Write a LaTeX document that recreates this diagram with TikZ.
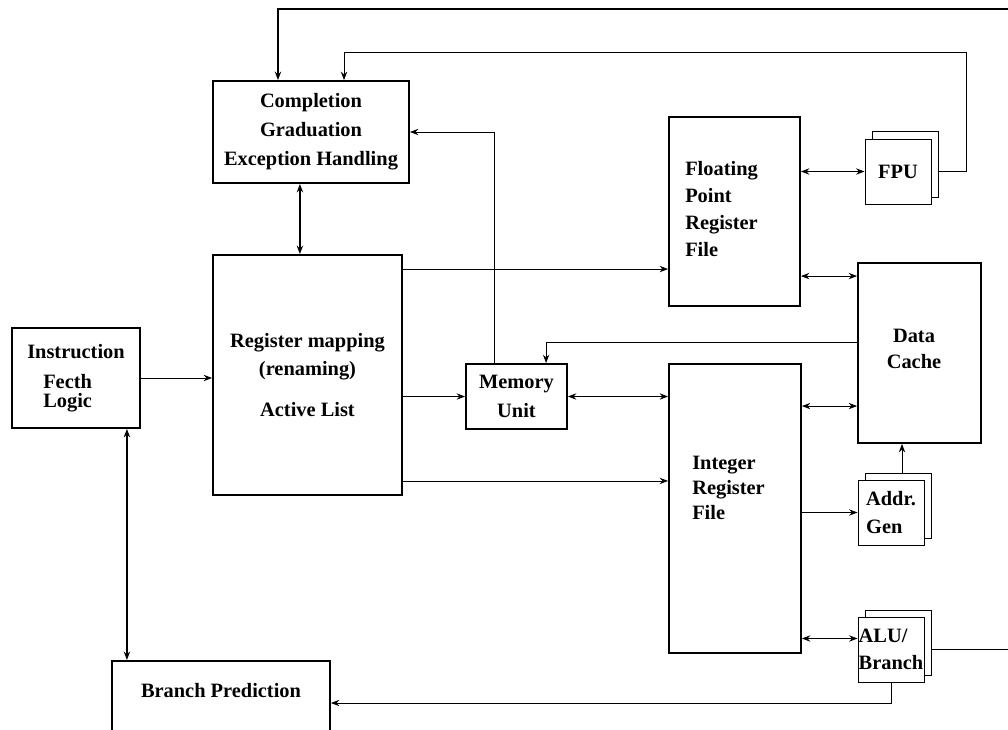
\documentclass[tikz,border=0pt]{standalone}
\usepackage{fontspec}
\setmainfont{Liberation Serif}
\usetikzlibrary{arrows.meta,shadows}
\begin{document}
\begin{tikzpicture}[x=0.025cm,y=-0.025cm,>={Stealth[length=6pt,width=4.5pt,inset=2pt]}]
	% styles
	\tikzstyle{blk} = [draw,line width=1.3pt,font=\bfseries\fontsize{14.5}{20.5}\selectfont,align=center,inner sep=0pt]
	\tikzstyle{lbl} = [font=\bfseries\fontsize{14.5}{19}\selectfont,align=left,inner sep=0pt]
	\tikzstyle{unit} = [draw,line width=0.7pt,fill=white,minimum width=1.65cm,minimum height=1.625cm,
		font=\bfseries\fontsize{14.5}{19.5}\selectfont,align=left,inner sep=0pt,
		general shadow={draw,line width=0.7pt,fill=white,shadow xshift=0.175cm,shadow yshift=0.175cm}]
	\tikzstyle{link} = [line width=0.6pt]
	\tikzstyle{bus} = [line width=1.1pt]
	
	% bounding box
	\useasboundingbox (0,0) rectangle (1008,730);
	\clip (0,0) rectangle (1008,730);
	
	% front end
	\node[blk,minimum width=4.9cm,minimum height=2.55cm] (compl) at (311,132) {Completion\\Graduation\\Exception Handling};
	\node[blk,minimum width=4.725cm,minimum height=6cm] (regmap) at (307.5,375) {Register mapping\\(renaming)\\[0.3cm]Active List};
	\node[blk,align=left,minimum width=3.2cm,minimum height=2.5cm] (fetch) at (76,378) {Instruction\\[0.03cm]\hspace*{0.4cm}Fecth\\[-0.25cm]\hspace*{0.4cm}Logic};
	\node[blk,anchor=north,minimum width=5.45cm,minimum height=3cm] (branch) at (221,660) {};
	\node[lbl] (bptext) at (221,691) {Branch Prediction};
	\node[blk,minimum width=2.525cm,minimum height=1.625cm] (memu) at (516.5,396.5) {Memory\\Unit};
	
	% register files and cache
	\node[blk,minimum width=3.275cm,minimum height=4.725cm] (fprf) at (734.5,211.5) {};
	\node[lbl,anchor=west] (fprftext) at (685,209) {Floating\\Point\\Register\\File};
	\node[blk,minimum width=3.3cm,minimum height=7.225cm] (irf) at (735,508.5) {};
	\node[lbl,anchor=west,font=\bfseries\fontsize{14.5}{18}\selectfont] (irftext) at (692,488) {Integer\\Register\\File};
	\node[blk,minimum width=3.075cm,minimum height=4.5cm] (dcache) at (919.5,353) {};
	\node[lbl,align=center,font=\bfseries\fontsize{14.5}{18.5}\selectfont] (dctext) at (914,349) {Data\\Cache};
	
	% functional units
	\node[unit] (fpu) at (898,171.5) {FPU};
	\node[unit] (addr) at (891,512.5) {Addr.\\Gen};
	\node[unit] (alu) at (891,649.5) {ALU/\\Branch};
	
	% fetch and rename
	\draw[link,->] (fetch.east) -- (fetch.east -| regmap.west);
	\draw[bus,<->] ([xshift=-0.35cm]fetch.south east) -- ([xshift=-0.35cm]fetch.south east |- branch.north);
	\draw[bus,<->] ([xshift=-0.19cm]regmap.north) -- ([xshift=-0.19cm]regmap.north |- compl.south);
	
	% dispatch
	\draw[link,->] ([yshift=-0.375cm]regmap.north east) -- ([yshift=-0.375cm]regmap.north east -| fprf.west);
	\draw[link,->] (regmap.east |- memu.west) -- (memu.west);
	\draw[link,->] ([yshift=0.375cm]regmap.south east) -- ([yshift=0.375cm]regmap.south east -| irf.west);
	\draw[link,<->] (memu.east) -- (memu.east -| irf.west);
	\draw[link,->] ([xshift=-0.54cm]memu.north) |- (compl.east);
	\draw[link,->] ([yshift=0.275cm]dcache.west) -| ([xshift=0.74cm]memu.north);
	
	% register files to units
	\draw[link,<->] (fprf.east |- fpu.west) -- (fpu.west);
	\draw[link,<->] ([yshift=-0.35cm]dcache.north west -| fprf.east) -- ([yshift=-0.35cm]dcache.north west);
	\draw[link,<->] ([yshift=-1.075cm]irf.north east) -- ([yshift=-1.075cm]irf.north east -| dcache.west);
	\draw[link,->] (irf.east |- addr.west) -- (addr.west);
	\draw[link,->] ([xshift=0.275cm,yshift=0.175cm]addr.north) -- ([xshift=0.275cm]addr.north |- dcache.south);
	\draw[link,<->] ([yshift=0.275cm]alu.west -| irf.east) -- ([yshift=0.275cm]alu.west);
	
	% results back
	\coordinate (fpret) at (966,52);
	\coordinate (aluret) at (1030,9);
	\draw[link,->] (alu.south) |- ([yshift=-1.075cm]branch.north east);
	\draw[link,->] ([xshift=0.15cm]fpu.east) -| (fpret) -| ([xshift=0.825cm]compl.north);
	\draw[bus,->] ([xshift=0.175cm]alu.east) -| (aluret) -| ([xshift=-0.825cm]compl.north);
\end{tikzpicture}
\end{document}
